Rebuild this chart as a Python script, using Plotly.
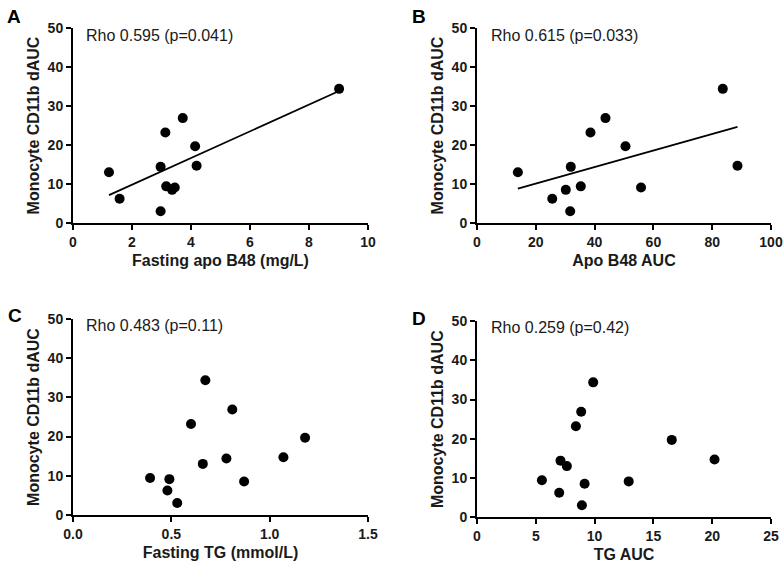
import numpy as np
import plotly.graph_objects as go

# Shared outcome (Monocyte CD11b dAUC), one value per subject
cd11b = [13.0, 6.2, 14.4, 3.0, 23.2, 9.4, 8.5, 9.1, 26.9, 19.7, 14.7, 34.4]

# Predictors per panel (same subject order)
fasting_apoB48 = [1.22, 1.58, 2.97, 2.97, 3.13, 3.16, 3.36, 3.45, 3.72, 4.14, 4.19, 9.02]
apoB48_auc = [13.9, 25.6, 31.9, 31.7, 38.6, 35.3, 30.2, 55.8, 43.7, 50.5, 88.6, 83.6]
fasting_tg = [0.66, 0.48, 0.78, 0.53, 0.60, 0.392, 0.87, 0.49, 0.81, 1.18, 1.07, 0.673]
tg_auc = [7.64, 6.99, 7.1, 8.92, 8.41, 5.52, 9.15, 12.9, 8.86, 16.56, 20.2, 9.88]

panel_letters = ["A", "B", "C", "D"]
x_titles = ["Fasting apo B48 (mg/L)", "Apo B48 AUC", "Fasting TG (mmol/L)", "TG AUC"]
rho_texts = ["Rho 0.595 (p=0.041)", "Rho 0.615 (p=0.033)", "Rho 0.483 (p=0.11)", "Rho 0.259 (p=0.42)"]
x_tick_labels = [["0", "2", "4", "6", "8", "10"],
                 ["0", "20", "40", "60", "80", "100"],
                 ["0.0", "0.5", "1.0", "1.5"],
                 ["0", "5", "10", "15", "20", "25"]]
y_tick_labels = ["0", "10", "20", "30", "40", "50"]
show_fit = [True, True, False, False]
y_title = "Monocyte CD11b dAUC"

xs = [fasting_apoB48, apoB48_auc, fasting_tg, tg_auc]

W, H = 784, 565
# pixel boxes (x0, x1, ybottom, ytop)
boxes = [(73, 368, 223, 28), (477, 771, 223, 28), (73, 368, 514.7, 319.3), (477, 771, 517, 321.3)]
letter_pos = [(14, 16), (419, 17), (15, 315), (419, 318)]
rho_pos = [(0.037, 0.964), (0.041, 0.964), (0.037, 0.969), (0.041, 0.967)]

fig = go.Figure()
TEXT = "#1a1a1a"
FONT = "Liberation Sans, Arial, sans-serif"

for i in range(4):
    n = i + 1
    xa = "x" if n == 1 else f"x{n}"
    ya = "y" if n == 1 else f"y{n}"
    fig.add_trace(go.Scatter(x=xs[i], y=cd11b, mode="markers",
                             marker=dict(color="black", size=10),
                             xaxis=xa, yaxis=ya, showlegend=False, cliponaxis=False))
    if show_fit[i]:
        k, b = np.polyfit(xs[i], cd11b, 1)
        xx = [min(xs[i]), max(xs[i])]
        fig.add_trace(go.Scatter(x=xx, y=[k * v + b for v in xx], mode="lines",
                                 line=dict(color="black", width=1.8),
                                 xaxis=xa, yaxis=ya, showlegend=False))
    x0, x1, yb, yt = boxes[i]
    axis_common = dict(showline=True, linecolor="black", linewidth=2, ticks="outside",
                       ticklen=5, tickwidth=2, tickcolor="black", showgrid=False,
                       zeroline=False, mirror=False, automargin=False,
                       tickfont=dict(family=FONT, size=14, color=TEXT))
    xl = x_tick_labels[i]
    xv = [float(t) for t in xl]
    fig.layout[f"xaxis{'' if n == 1 else n}"] = dict(
        domain=[x0 / W, x1 / W], anchor=ya, range=[xv[0], xv[-1]],
        tickmode="array", tickvals=xv, ticktext=[f"<b>{t}</b>" for t in xl],
        title=dict(text=f"<b>{x_titles[i]}</b>", font=dict(family=FONT, size=16, color=TEXT),
                   standoff=6),
        **axis_common)
    yv = [float(t) for t in y_tick_labels]
    fig.layout[f"yaxis{'' if n == 1 else n}"] = dict(
        domain=[1 - yb / H, 1 - yt / H], anchor=xa, range=[yv[0], yv[-1]],
        tickmode="array", tickvals=yv, ticktext=[f"<b>{t}</b>" for t in y_tick_labels],
        title=dict(text=f"<b>{y_title}</b>", font=dict(family=FONT, size=16, color=TEXT),
                   standoff=4),
        **axis_common)
    fig.add_annotation(text=rho_texts[i], xref=f"{xa} domain", yref=f"{ya} domain",
                       x=rho_pos[i][0], y=rho_pos[i][1], xanchor="left", yanchor="middle",
                       showarrow=False, font=dict(family=FONT, size=16, color=TEXT))
    lx, ly = letter_pos[i]
    fig.add_annotation(text=f"<b>{panel_letters[i]}</b>", xref="paper", yref="paper",
                       x=lx / W, y=1 - ly / H, xanchor="center", yanchor="middle",
                       showarrow=False, font=dict(family=FONT, size=19, color="black"))

fig.update_layout(width=W, height=H, margin=dict(l=0, r=0, t=0, b=0),
                  plot_bgcolor="white", paper_bgcolor="white")
fig.write_html("out.html")
